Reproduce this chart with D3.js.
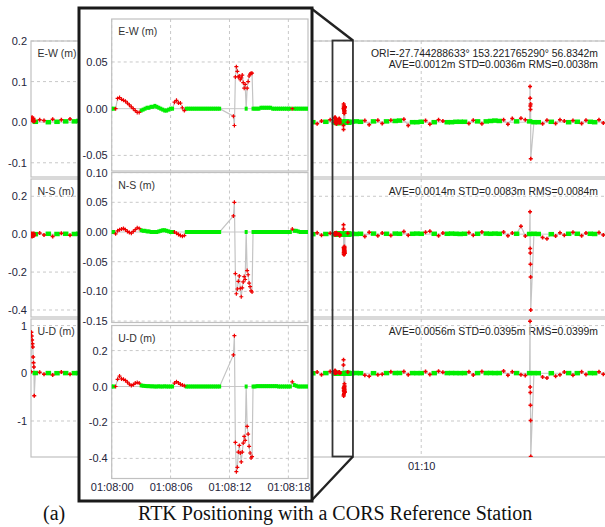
<!DOCTYPE html>
<html lang="en">
<head>
<meta charset="utf-8">
<title>RTK Positioning with a CORS Reference Station</title>
<style>
  body { margin: 0; background: #fff; }
  svg { display: block; }
  svg text { font-family: "Liberation Sans", Arial, sans-serif; }
</style>
<script src="https://cdn.jsdelivr.net/npm/d3@7"></script>
</head>
<body>
<svg id="chart" width="605" height="527"></svg>
<script>
// ---- main (long) solution, one epoch every mainStep seconds ----
var mainStart = "01:01:00";
var mainStep = 6;
// 1 = fix (green), 2 = float (red)
var mainQ = [2,1,2,2,1,2,1,2,1,2, 1,1,1,1,1,2,2,1,1,1, 1,1,2,1,1,1,1,1,1,1,
             2,2,1,1,1,1,1,1,1,1, 2,1,1,1,1,1,1,1,2,2, 1,1,1,1,1,1,1,2,1,1,
             1,2,1,1,1,1,2,2,1,2, 2,1,1,1,1,1,1,2,2,1, 2,2,1,2,1,1,2,2,1,1,
             1,2,2,1,2,2,1,1,1,1, 1,2,2,1,2,1,1,1,1,2, 2,2,1,2,2,1,1,1,2,2,
             1,2,2,2,1,2,1,2,2,1, 1,2,2,1,1,1,1,1,1,1,1];
var mainE = [0.008,0.001,0.006,0.004,0.000,0.007,0.001,0.006,0.002,0.008,
             0.002,0.003,0.001,0.000,0.001,0.006,-0.004,0.001,0.002,0.001,
             0.000,0.001,0.005,0.002,0.001,0.000,0.001,0.002,0.001,0.000,
             -0.005,0.004,0.001,0.002,0.001,0.000,0.001,0.001,0.002,0.001,
             0.006,0.001,0.000,0.001,0.002,0.001,0.000,0.001,-0.004,0.005,
             0.001,0.002,0.001,0.000,0.001,0.002,0.001,0.006,0.001,0.000,
             0.001,-0.005,0.001,0.002,0.001,0.000,-0.004,0.003,0.001,0.006,
             0.008,0.001,0.001,0.000,0.001,0.002,0.001,0.004,-0.006,0.002,
             0.005,-0.003,0.002,0.005,0.003,0.004,0.007,-0.008,0.000,0.000,
             0.001,0.004,-0.005,0.000,0.006,0.003,0.000,0.000,0.001,0.001,
             0.001,-0.003,0.005,0.002,-0.004,0.002,0.003,0.004,0.003,0.006,
             -0.005,0.009,0.002,0.010,0.006,0.002,0.000,0.000,-0.004,0.005,
             0.001,-0.003,0.006,0.003,0.000,0.004,0.001,-0.003,0.005,0.001,
             0.000,0.006,-0.002,0.001,0.000,0.002,0.001,0.000,0.001,0.002,0.001];
var mainN = [-0.010,0.000,0.006,-0.004,0.002,-0.012,0.001,0.005,0.002,-0.006,
             0.001,0.002,0.001,0.002,0.001,0.008,-0.006,0.002,0.001,0.002,
             0.001,0.002,0.010,0.001,0.002,0.001,0.002,0.001,0.002,0.001,
             -0.008,0.006,0.002,0.001,0.002,0.001,0.002,0.002,0.001,0.002,
             0.009,0.002,0.001,0.002,0.001,0.002,0.001,0.002,-0.007,0.010,
             0.002,0.001,0.002,0.001,0.002,0.001,0.002,0.008,0.001,0.002,
             0.001,-0.009,0.002,0.001,0.002,0.000,0.008,-0.006,0.001,0.005,
             0.004,0.002,0.001,0.002,0.002,0.001,0.002,-0.012,0.010,0.003,
             -0.008,0.006,0.002,-0.007,0.003,0.002,0.014,-0.006,0.002,0.003,
             0.002,0.010,0.016,0.002,-0.008,0.006,0.002,0.003,0.002,0.001,
             0.002,0.009,-0.006,0.002,0.012,0.003,0.002,0.003,0.002,0.011,
             -0.008,0.006,0.002,0.042,-0.010,0.001,0.002,0.001,-0.018,-0.024,
             0.000,-0.010,0.008,-0.006,0.002,0.010,0.002,-0.008,0.006,0.002,
             0.001,0.009,-0.005,0.002,0.001,0.002,0.003,0.002,0.001,0.002,0.002];
var mainU = [0.030,0.005,0.020,-0.020,0.004,-0.035,0.002,0.025,0.004,-0.020,
             0.003,0.005,0.004,0.003,0.005,0.030,-0.025,0.004,0.003,0.005,
             0.004,0.003,0.035,0.004,0.005,0.003,0.004,0.005,0.003,0.004,
             -0.030,0.025,0.004,0.003,0.005,0.004,0.003,0.004,0.005,0.003,
             0.030,0.004,0.003,0.005,0.004,0.003,0.004,0.005,-0.035,0.030,
             0.004,0.003,0.005,0.004,0.003,0.004,0.005,0.025,0.003,0.004,
             0.005,-0.030,0.004,0.003,0.004,0.000,0.025,-0.030,0.004,0.040,
             0.030,0.004,0.003,0.004,0.003,0.005,0.002,-0.040,-0.060,0.002,
             -0.030,-0.020,0.004,0.030,0.005,0.006,0.040,-0.030,0.004,0.003,
             0.004,0.035,-0.025,0.003,0.045,0.020,0.004,0.005,0.004,0.003,
             0.004,0.030,-0.035,0.004,0.040,0.005,0.006,0.004,0.005,0.050,
             -0.040,0.030,0.004,-0.030,-0.045,0.003,0.004,0.003,-0.080,-0.100,
             0.002,-0.060,-0.030,0.025,0.004,-0.040,0.003,0.030,-0.025,0.004,
             0.003,0.030,-0.020,0.004,0.003,0.005,0.004,0.003,0.004,0.005,0.004];

// extra float epochs (seconds after mainStart): start-up and the 01:12:31 jump
var spikeT = [0.5,1,1.5,2,2.5,3,3.5,4,4.5, 690.6,690.8,691,691.2,691.4,691.6];
var spikeE = [0.010,0.006,0.012,0.004,0.008,0.003,0.009,0.005,0.002, 0.088,0.059,0.040,0.031,0.045,-0.090];
var spikeN = [-0.008,0.004,-0.012,-0.006,0.002,-0.010,-0.004,0.003,-0.007, 0.118,-0.076,-0.099,-0.159,-0.226,-0.400];
var spikeU = [0.86,0.78,0.70,0.62,0.55,0.34,0.22,0.13,-0.47, 1.090,-0.287,-0.405,-0.671,-0.990,-1.747];

// ---- zoomed 20 s window ----
var insetStart = "01:08:00";
var insetLen = 20;
var insetT = [0,0.2,0.4,0.6,0.8,1,1.2,1.4,1.6,1.8,
              2,2.2,2.4,2.6,2.8,3,3.2,3.4,3.6,3.8,
              4,4.2,4.4,4.6,4.8,5,5.2,5.4,5.6,5.8,
              6,6.2,6.4,6.6,6.8,7,7.2,7.4,7.6,7.8,
              8,8.2,8.4,8.6,8.8,9,9.2,9.4,9.6,9.8,
              10,10.2,10.4,10.6,10.8,11,
              12.4,12.5,12.6,12.7,12.8,12.9,13,13.1,13.2,13.3,
              13.4,13.5,13.6,13.7,13.8,13.9,14,14.1,14.2,14.3,
              14.4,14.6,14.8,15,15.2,15.4,15.6,15.8,16,16.2,
              16.4,16.6,16.8,17,17.2,17.4,17.6,17.8,18,18.2,
              18.4,18.6,18.8,19,19.2,19.4,19.6,19.8,20];
var insetQ = [1,1,2,2,2,2,2,2,2,2, 2,2,2,2,2,1,1,1,1,1, 1,1,1,1,1,1,1,1,1,1,
              1,1,2,2,2,2,2,2,1,1, 1,1,1,1,1,1,1,1,1,1, 1,1,1,1,1,1,
              2,2,2,2,2,2,2,2,2,2, 2,2,2,1,2,2,2,2,2,2,
              1,1,1,1,1,1,1,1,1,1, 1,1,1,1,1,1,1,1,1,1, 2,1,1,1,1,1,1,1,1];
var insetE = [0,0,0,0.011,0.012,0.010,0.009,0.008,0.006,0.004,
              0.002,0,-0.002,-0.004,-0.004,-0.002,-0.001,0,0.001,0.001,
              0.002,0.002,0.003,0.002,0.001,0,-0.001,-0.002,-0.002,-0.001,
              0,0,0.007,0.009,0.006,0.006,0.001,-0.002,0,0,
              0,0,0,0,0,0,0,0,0,0, 0,0,0,0,0,0,
              -0.008,-0.018,0.034,0.045,0.040,0.034,0.035,0.031,0.033,0.036,
              0.028,0.022,0.026,0,0.022,0.029,0.035,0.037,0.038,0.038,
              0,0,0,0,0.001,0.001,0.001,0.001,0.001,0.001,
              0,0,0,0,0,0,0,0,0,0, 0,0,0,0,0,0,0,0,0];
var insetN = [0,0,-0.003,0.002,0.004,0.005,0.006,0.004,0.001,-0.001,
              -0.002,0.001,0.004,0.007,0.006,0.003,0.002,0.002,0.001,0.001,
              0,0,0,0,0.001,0.002,0.003,0.003,0.002,0.001,
              0,0,0,-0.002,-0.004,-0.006,-0.007,-0.006,0,0,
              0,0,0,0,0,0,0,0,0,0, 0,0,0,0,0,0,
              0.027,0.050,-0.070,-0.104,-0.096,-0.083,-0.074,-0.095,-0.109,-0.094,
              -0.084,-0.075,-0.080,0,-0.065,-0.072,-0.086,-0.092,-0.099,-0.101,
              0,0,0,0,0,0,0,0,0,0, 0,0,0,0,0,0,0,0,0,0,
              0.005,0.002,0.002,0.001,0,0,0,0,0];
var insetU = [0,0,0,0.040,0.058,0.042,0.040,0.034,0.024,0.013,
              0.006,0.010,0.019,0.022,0.019,0.006,0.004,0.003,0.002,0.002,
              0.001,0.001,0,0,0.001,0,0,0.001,0,0,
              0,0,0.019,0.027,0.020,0.012,0.008,0.004,0,0,
              0,0,0,0,0,0,0,0,0,0, 0,0,0,0,0,0,
              0.176,0.283,-0.311,-0.474,-0.450,-0.365,-0.328,-0.370,-0.420,-0.365,
              -0.315,-0.278,-0.300,0,-0.222,-0.265,-0.333,-0.370,-0.398,-0.390,
              0,0,0.002,0.002,0.002,0.002,0.002,0.002,0.002,0.002,
              0.002,0.002,0.002,0,0,0,0,0,0,0,
              0.026,0.008,0.004,0,0,0,0,0,0];

// ticks and texts
var mainTicksE = [0.2, 0.1, 0, -0.1];
var mainTicksN = [0.2, 0, -0.2, -0.4];
var mainTicksU = [1, 0, -1];
var insetTicksE = [0.05, 0, -0.05];
var insetTicksN = [0.10, 0.05, 0, -0.05, -0.10, -0.15];
var insetTicksU = [0.2, 0, -0.2, -0.4];
var mainTimeTicks = ["01:05:00", "01:10:00"];
var insetTimeTicks = ["01:08:00", "01:08:06", "01:08:12", "01:08:18"];
var panelLabels = ["E-W (m)", "N-S (m)", "U-D (m)"];
var statsE = ["ORI=-27.744288633\u00b0 153.221765290\u00b0 56.8342m", "AVE=0.0012m STD=0.0036m RMS=0.0038m"];
var statsN = ["AVE=0.0014m STD=0.0083m RMS=0.0084m"];
var statsU = ["AVE=0.0056m STD=0.0395m RMS=0.0399m"];
var caption = ["(a)", "RTK Positioning with a CORS Reference Station"];

var GREEN = "#00ee00", RED = "#f00000", GRID = "#c8c8c8", FRAME = "#c0c0c0";

var svg = d3.select("#chart");
var parseTime = d3.timeParse("%H:%M:%S");
var fmt = d3.formatLocale({decimal: ".", thousands: ",", grouping: [3], currency: ["", ""], minus: "-"}).format;
function addSec(d, s) { return new Date(d.getTime() + s * 1000); }

var mainT0 = parseTime(mainStart);
var insetT0 = parseTime(insetStart);
var insetT1 = addSec(insetT0, insetLen);

function epochs(t0, ts, q, e, n, u) {
  return ts.map(function(s, i) { return {t: addSec(t0, s), q: q[i], e: e[i], n: n[i], u: u[i]}; });
}

var insetEp = epochs(insetT0, insetT, insetQ, insetE, insetN, insetU);
var mainEp = epochs(mainT0, mainE.map(function(d, i) { return i * mainStep; }), mainQ, mainE, mainN, mainU)
  .filter(function(d) { return d.t < insetT0 || d.t > insetT1; })
  .concat(epochs(mainT0, spikeT, spikeT.map(function() { return 2; }), spikeE, spikeN, spikeU))
  .concat(insetEp)
  .sort(function(a, b) { return a.t - b.t; });

var xMain = d3.scaleTime().domain([mainT0, addSec(mainT0, 840)]).range([31, 638]);
var xInset = d3.scaleTime().domain([insetT0, insetT1]).range([111.7, 308]);

var mainPanels = [
  {key: "e", top: 41, bottom: 177, domain: [-0.135, 0.2], ticks: mainTicksE, f: ".1f", stats: statsE},
  {key: "n", top: 179, bottom: 317, domain: [-0.437, 0.291], ticks: mainTicksN, f: ".1f", stats: statsN},
  {key: "u", top: 319, bottom: 457, domain: [-1.755, 1.138], ticks: mainTicksU, f: ".0f", stats: statsU}
];
var insetPanels = [
  {key: "e", top: 19, bottom: 171, domain: [-0.0667, 0.096], ticks: insetTicksE, f: ".2f", stats: []},
  {key: "n", top: 172.5, bottom: 322.5, domain: [-0.1524, 0.1002], ticks: insetTicksN, f: ".2f", stats: []},
  {key: "u", top: 325.5, bottom: 478.5, domain: [-0.512, 0.3396], ticks: insetTicksU, f: ".1f", stats: []}
];

var clipN = 0;
function plus(a) { return "M" + (-a) + ",0H" + a + "M0," + (-a) + "V" + a; }

function drawPanel(g, x, p, i, ep, timeTicks, o) {
  var y = d3.scaleLinear().domain(p.domain).range([p.bottom, p.top]);
  var x0 = x.range()[0], x1 = x.range()[1];
  var id = "clip" + (clipN++);
  g.append("clipPath").attr("id", id).append("rect")
    .attr("x", x0).attr("y", p.top).attr("width", x1 - x0).attr("height", p.bottom - p.top);

  // grid
  g.selectAll(null).data(p.ticks.filter(function(v) { return v !== 0; })).enter().append("line")
    .attr("x1", x0).attr("x2", x1).attr("y1", function(d) { return y(d); }).attr("y2", function(d) { return y(d); })
    .attr("stroke", GRID).attr("stroke-dasharray", "3,3");
  g.append("line").attr("x1", x0).attr("x2", x1).attr("y1", y(0)).attr("y2", y(0)).attr("stroke", GRID);
  g.selectAll(null).data(timeTicks).enter().append("line")
    .attr("x1", function(d) { return x(d); }).attr("x2", function(d) { return x(d); })
    .attr("y1", p.top).attr("y2", p.bottom)
    .attr("stroke", GRID).attr("stroke-dasharray", "3,3");
  g.append("rect").attr("x", x0).attr("y", p.top).attr("width", x1 - x0).attr("height", p.bottom - p.top)
    .attr("fill", "none").attr("stroke", FRAME).attr("stroke-width", 1.2);

  // y axis labels
  var ax = g.append("g").attr("transform", "translate(" + x0 + ",0)")
    .call(d3.axisLeft(y).tickValues(p.ticks).tickFormat(fmt(p.f)).tickSize(0).tickPadding(4));
  ax.select(".domain").remove();
  ax.attr("font-family", null).attr("font-size", 11);
  ax.selectAll("text").attr("fill", "#24243a");

  g.append("text").attr("x", x0 + 6.5).attr("y", p.top + 16).attr("font-size", 10.5).attr("fill", "#333")
    .text(panelLabels[i]);
  g.selectAll(null).data(p.stats).enter().append("text")
    .attr("x", 598).attr("y", function(d, k) { return p.top + 16 + k * 11; })
    .attr("text-anchor", "end").attr("font-size", 10.4).attr("fill", "#222")
    .text(function(d) { return d; });

  // data: grey connecting line, fix marks, then float marks on top
  var dg = g.append("g").attr("clip-path", "url(#" + id + ")");
  var line = d3.line().x(function(d) { return x(d.t); }).y(function(d) { return y(d[p.key]); });
  dg.append("path").datum(ep).attr("d", line).attr("fill", "none").attr("stroke", "#c4c4c4").attr("stroke-width", 1.2);
  dg.selectAll(null).data(ep.filter(function(d) { return d.q === 1; })).enter().append("rect")
    .attr("x", function(d) { return x(d.t) - o.gw / 2; })
    .attr("y", function(d) { return y(d[p.key]) - o.gh / 2; })
    .attr("width", o.gw).attr("height", o.gh).attr("fill", GREEN);
  dg.selectAll(null).data(ep.filter(function(d) { return d.q === 2; })).enter().append("path")
    .attr("transform", function(d) { return "translate(" + x(d.t) + "," + y(d[p.key]) + ")"; })
    .attr("d", plus(2)).attr("stroke", RED).attr("stroke-width", o.rw);
}

// ---- main chart ----
var gMain = svg.append("g");
var mainTT = mainTimeTicks.map(parseTime);
mainPanels.forEach(function(p, i) { drawPanel(gMain, xMain, p, i, mainEp, mainTT, {gw: 5.5, gh: 4.5, rw: 1.5}); });
var axMain = gMain.append("g").attr("transform", "translate(0,457)")
  .call(d3.axisBottom(xMain).tickValues(mainTT).tickFormat(d3.timeFormat("%H:%M")).tickSize(0).tickPadding(5));
axMain.select(".domain").remove();
axMain.attr("font-family", null).attr("font-size", 11);
axMain.selectAll("text").attr("fill", "#24243a");

// zoom box on the main chart + connectors
var bx0 = xMain(insetT0) - 2, bx1 = xMain(insetT1) + 4;
svg.append("rect").attr("x", bx0).attr("y", 40.5).attr("width", bx1 - bx0).attr("height", 416)
  .attr("fill", "none").attr("stroke", "#333").attr("stroke-width", 1.8);
svg.append("line").attr("x1", 312).attr("y1", 9).attr("x2", bx1).attr("y2", 40.5)
  .attr("stroke", "#222").attr("stroke-width", 2.4);
svg.append("line").attr("x1", 312).attr("y1", 500).attr("x2", bx1).attr("y2", 456.5)
  .attr("stroke", "#222").attr("stroke-width", 2.4);

// ---- inset ----
var gIn = svg.append("g");
gIn.append("rect").attr("x", 79).attr("y", 8).attr("width", 233).attr("height", 493)
  .attr("fill", "#fff").attr("stroke", "#1a1a1a").attr("stroke-width", 3);
var insetTT = insetTimeTicks.map(parseTime);
insetPanels.forEach(function(p, i) { drawPanel(gIn, xInset, p, i, insetEp, insetTT, {gw: 3, gh: 4, rw: 1.2}); });
var axIn = gIn.append("g").attr("transform", "translate(0,478.5)")
  .call(d3.axisBottom(xInset).tickValues(insetTT).tickFormat(d3.timeFormat("%H:%M:%S")).tickSize(0).tickPadding(5));
axIn.select(".domain").remove();
axIn.attr("font-family", null).attr("font-size", 11);
axIn.selectAll("text").attr("fill", "#24243a");

// ---- caption ----
svg.append("text").attr("x", 43).attr("y", 520).attr("font-size", 20).attr("fill", "#111")
  .style("font-family", "'Liberation Serif', 'Times New Roman', serif").text(caption[0]);
svg.append("text").attr("x", 138).attr("y", 520).attr("font-size", 20).attr("fill", "#111")
  .style("font-family", "'Liberation Serif', 'Times New Roman', serif").text(caption[1]);
</script>
</body>
</html>
